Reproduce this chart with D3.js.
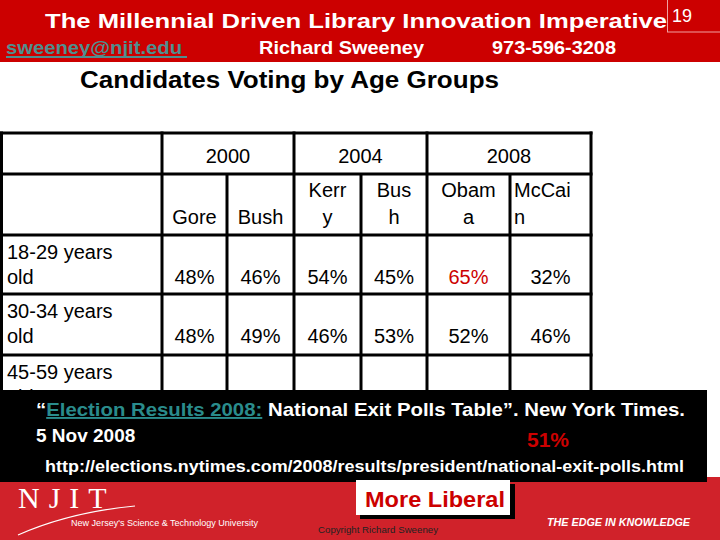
<!DOCTYPE html>
<html><head><meta charset="utf-8">
<script src="https://cdn.jsdelivr.net/npm/d3@7"></script>
<style>html,body{margin:0;padding:0;background:#fff;} svg{display:block;}</style>
</head><body><svg id="c" width="720" height="540"></svg>
<script>
// ---- data ----
const years = ["2000", "2004", "2008"];
const candidateHeaders = [["", "Gore"], ["", "Bush"], ["Kerr", "y"], ["Bus", "h"], ["Obam", "a"], ["McCai", "n"]];
const ageGroups = [["18-29 years", "old"], ["30-34 years", "old"], ["45-59 years", "old"]];
const row1829 = [48, 46, 54, 45, 65, 32];
const row3034 = [48, 49, 46, 53, 52, 46];
const row4559 = [48, 49, 48, 51, 50, 49];
const values = [row1829, row3034, row4559];
const highlighted = ["0-4"];

const svg = d3.select("#c");
const F = "'Liberation Sans', Arial, sans-serif";
const RED = "#cc0000";

svg.append("defs").append("clipPath").attr("id", "tableClip")
  .append("rect").attr("x", 0).attr("y", 120).attr("width", 720).attr("height", 270);

// ---- header band ----
svg.append("rect").attr("x", 0).attr("y", 0).attr("width", 720).attr("height", 62).attr("fill", RED);
svg.append("rect").attr("x", 667.5).attr("y", -1).attr("width", 54).attr("height", 33)
  .attr("fill", "none").attr("stroke", "#f0a0a0").attr("stroke-width", 1);
svg.append("text").attr("x", 672).attr("y", 22).attr("fill", "#fff").attr("font-family", F)
  .attr("font-size", 18).text("19");
svg.append("text").attr("x", 45).attr("y", 28).attr("fill", "#fff").attr("font-family", F)
  .attr("font-weight", "bold").attr("font-size", 21).attr("textLength", 622).attr("lengthAdjust", "spacingAndGlyphs")
  .text("The Millennial Driven Library Innovation Imperative");
svg.append("text").attr("x", 6).attr("y", 54).attr("fill", "#4f8f8f").attr("font-family", F)
  .attr("font-weight", "bold").attr("font-size", 19).attr("textLength", 176).attr("lengthAdjust", "spacingAndGlyphs")
  .text("sweeney@njit.edu");
svg.append("rect").attr("x", 6).attr("y", 56).attr("width", 181).attr("height", 2).attr("fill", "#4f8f8f");
svg.append("text").attr("x", 259).attr("y", 54).attr("fill", "#fff").attr("font-family", F)
  .attr("font-weight", "bold").attr("font-size", 19).attr("textLength", 165).attr("lengthAdjust", "spacingAndGlyphs")
  .text("Richard Sweeney");
svg.append("text").attr("x", 492).attr("y", 54).attr("fill", "#fff").attr("font-family", F)
  .attr("font-weight", "bold").attr("font-size", 19).attr("textLength", 124).attr("lengthAdjust", "spacingAndGlyphs")
  .text("973-596-3208");

// ---- subtitle ----
svg.append("text").attr("x", 80).attr("y", 88).attr("fill", "#000").attr("font-family", F)
  .attr("font-weight", "bold").attr("font-size", 23).attr("textLength", 419).attr("lengthAdjust", "spacingAndGlyphs")
  .text("Candidates Voting by Age Groups");

// ---- table scales ----
const colEdges = [0, 162, 227, 294, 361, 427, 510, 591];
const rowEdges = [133, 174, 235, 294, 355, 415];
const xEdge = d3.scaleOrdinal().domain(d3.range(colEdges.length)).range(colEdges);
const yEdge = d3.scaleOrdinal().domain(d3.range(rowEdges.length)).range(rowEdges);
const colCenter = i => (xEdge(i + 1) + xEdge(i + 2)) / 2; // candidate column i
const g = svg.append("g").attr("clip-path", "url(#tableClip)");

// header row 1: years
years.forEach((yr, k) => {
  const cx = (xEdge(1 + 2 * k) + xEdge(3 + 2 * k)) / 2;
  g.append("text").attr("x", cx).attr("y", 163).attr("text-anchor", "middle")
    .attr("font-family", F).attr("font-size", 20).text(yr);
});
// header row 2: candidates
candidateHeaders.forEach((lines, i) => {
  const left = i === 5;
  lines.forEach((t, j) => {
    if (!t) return;
    g.append("text").attr("x", left ? xEdge(i + 1) + 4 : colCenter(i)).attr("y", j === 0 ? 197 : 224)
      .attr("text-anchor", left ? "start" : "middle")
      .attr("font-family", F).attr("font-size", 20).text(t);
  });
});
// data rows
ageGroups.forEach((lab, r) => {
  const top = yEdge(r + 2);
  g.append("text").attr("x", 7).attr("y", top + 24).attr("font-family", F).attr("font-size", 20).text(lab[0]);
  g.append("text").attr("x", 7).attr("y", top + 49).attr("font-family", F).attr("font-size", 20).text(lab[1]);
  values[r].forEach((v, i) => {
    g.append("text").attr("x", colCenter(i)).attr("y", top + 49).attr("text-anchor", "middle")
      .attr("font-family", F).attr("font-size", 20)
      .attr("fill", highlighted.includes(r + "-" + i) ? RED : "#000")
      .text(v + "%");
  });
});
// grid lines
const lw = 3;
rowEdges.slice(0, 5).forEach((yv, k) => {
  g.append("line").attr("x1", 0).attr("x2", 592.5).attr("y1", yEdge(k)).attr("y2", yEdge(k))
    .attr("stroke", "#000").attr("stroke-width", lw);
});
[0, 1, 3, 5, 7].forEach(c => {
  const xx = c === 0 ? 1.5 : xEdge(c);
  g.append("line").attr("x1", xx).attr("x2", xx).attr("y1", 131.5).attr("y2", 420)
    .attr("stroke", "#000").attr("stroke-width", lw);
});
[2, 4, 6].forEach(c => {
  g.append("line").attr("x1", xEdge(c)).attr("x2", xEdge(c)).attr("y1", 174).attr("y2", 420)
    .attr("stroke", "#000").attr("stroke-width", lw);
});

// ---- bottom band ----
svg.append("rect").attr("x", 0).attr("y", 477).attr("width", 720).attr("height", 63).attr("fill", "#d0222a");

// ---- black citation box ----
svg.append("rect").attr("x", 0).attr("y", 390).attr("width", 707).attr("height", 92).attr("fill", "#000");
const cite = svg.append("text").attr("x", 36).attr("y", 416).attr("font-family", F)
  .attr("font-weight", "bold").attr("font-size", 19).attr("fill", "#fff")
  .attr("textLength", 649).attr("lengthAdjust", "spacingAndGlyphs");
cite.append("tspan").text("“");
cite.append("tspan").attr("fill", "#2a8c8c").attr("text-decoration", "underline").text("Election Results 2008:");
cite.append("tspan").text(" National Exit Polls Table”.  New York Times.");
svg.append("text").attr("x", 36).attr("y", 442).attr("font-family", F).attr("font-weight", "bold")
  .attr("font-size", 19).attr("fill", "#fff").text("5 Nov 2008");
svg.append("text").attr("x", 527).attr("y", 447).attr("font-family", F).attr("font-weight", "bold")
  .attr("font-size", 21).attr("fill", RED).text("51%");
svg.append("text").attr("x", 45).attr("y", 472).attr("font-family", F).attr("font-weight", "bold")
  .attr("font-size", 16).attr("fill", "#fff").attr("textLength", 639).attr("lengthAdjust", "spacingAndGlyphs")
  .text("http://elections.nytimes.com/2008/results/president/national-exit-polls.html");

// ---- NJIT logo ----
svg.append("text").attr("x", 18).attr("y", 508).attr("font-family", "'Liberation Serif', serif")
  .attr("font-size", 30).attr("fill", "#fff").attr("letter-spacing", 9).text("NJIT");
svg.append("path").attr("d", "M18,535 Q70,512 135,506").attr("fill", "none").attr("stroke", "#fff").attr("stroke-width", 1.2);
svg.append("text").attr("x", 71).attr("y", 526).attr("font-family", F).attr("font-size", 9.5)
  .attr("fill", "#fff").attr("textLength", 187).attr("lengthAdjust", "spacingAndGlyphs")
  .text("New Jersey's Science & Technology University");
svg.append("text").attr("x", 547).attr("y", 526).attr("font-family", F).attr("font-size", 10.5)
  .attr("font-weight", "bold").attr("font-style", "italic").attr("fill", "#fff")
  .attr("textLength", 143).attr("lengthAdjust", "spacingAndGlyphs").text("THE EDGE IN KNOWLEDGE");
svg.append("text").attr("x", 318).attr("y", 533).attr("font-family", F).attr("font-size", 9)
  .attr("fill", "#222").attr("textLength", 120).attr("lengthAdjust", "spacingAndGlyphs").text("Copyright Richard Sweeney");

// ---- More Liberal box ----
svg.append("rect").attr("x", 360).attr("y", 484).attr("width", 155).attr("height", 35).attr("fill", "#000");
svg.append("rect").attr("x", 356).attr("y", 480).attr("width", 154).attr("height", 35).attr("fill", "#fff");
svg.append("text").attr("x", 365).attr("y", 507).attr("font-family", F).attr("font-weight", "bold")
  .attr("font-size", 22).attr("fill", RED).attr("textLength", 140).attr("lengthAdjust", "spacingAndGlyphs")
  .text("More Liberal");
</script></body></html>
